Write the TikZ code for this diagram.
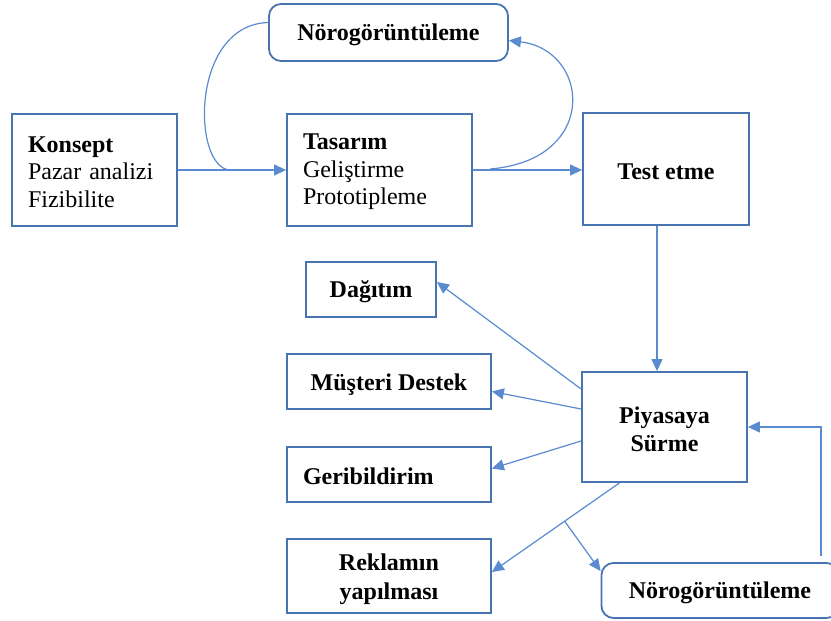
\documentclass[tikz,border=0pt]{standalone}
\usepackage{fontspec}
\setmainfont{Liberation Serif}
\usepackage{xcolor}
\usetikzlibrary{arrows.meta,positioning,calc}
\definecolor{boxline}{HTML}{4874B2}
\definecolor{arrline}{HTML}{5A8AD0}
\newcommand{\topgap}[1]{\rule{0pt}{#1}}

\begin{document}
\begin{tikzpicture}[x=1pt,y=-1pt,
  box/.style={draw=boxline,line width=1.8pt,inner sep=0pt,font=\fontsize{24}{28}\selectfont\bfseries,align=center},
  lbox/.style={box,font=\fontsize{24}{27.5}\selectfont,inner xsep=16pt,align=left},
  rbox/.style={box,rounded corners=12pt},
  ln/.style={draw=arrline,line width=1.2pt},
  arr/.style={ln,-{Triangle[length=12pt,width=11pt]}}]
 \useasboundingbox (0,0) rectangle (831,621);
 \clip (0,0) rectangle (831,621);
 % upper row
 \node[lbox,text width=133pt,minimum height=112pt] (kon) at (94.5,170) {\topgap{19.5pt}\textbf{Konsept}\\Pazar analizi\\Fizibilite};
 \node[lbox,text width=153pt,minimum height=112pt] (tas) at (379.5,170) {\topgap{19.5pt}\textbf{Tasarım}\\Geliştirme\\Prototipleme};
 \node[box,minimum width=166pt,minimum height=112pt] (test) at (666,169) {\topgap{22pt}Test etme};
 \node[rbox,minimum width=239pt,minimum height=57pt] (nrt) at (388.5,32.5) {\topgap{22pt}Nörogörüntüleme};
 % launch and its outputs
 \node[box,minimum width=165pt,minimum height=110pt] (pia) at (664.5,427) {\topgap{22pt}Piyasaya\\Sürme};
 \node[box,minimum width=130pt,minimum height=55pt] (dag) at (371,289.5) {\topgap{22pt}Dağıtım};
 \node[box,minimum width=204pt,minimum height=55pt] (mus) at (389,381.5) {\topgap{22pt}Müşteri Destek};
 \node[lbox,font=\fontsize{24}{27.5}\selectfont\bfseries,text width=172pt,minimum height=55pt] (geri) at (389,474.5) {\topgap{19.5pt}Geribildirim};
 \node[box,font=\fontsize{24}{29.5}\selectfont\bfseries,minimum width=204pt,minimum height=74pt] (rek) at (389,576) {\topgap{23pt}Reklamın\\yapılması};
 \node[rbox,minimum width=237pt,minimum height=55pt] (nrb) at (720,590.5) {\topgap{22pt}Nörogörüntüleme};
 % connectors
 \coordinate (m1) at (230,170);
 \coordinate (m2) at (490,169);
 \draw[arr] (kon.east) -- (tas.west);
 \draw[arr] (tas.east) -- (tas.east -| test.west);
 \draw[ln] ([yshift=10pt]nrt.west) .. controls (190,25) and (192,168) .. (m1);
 \draw[arr] (m2) .. controls (600,160) and (590,50) .. ([yshift=-8pt]nrt.east);
 \draw[arr] ([xshift=-9pt]test.south) -- ([xshift=-9pt]test.south |- pia.north);
 \draw[arr] ([yshift=38pt]pia.west) -- ([yshift=7.5pt]dag.east);
 \draw[arr] ([yshift=18pt]pia.west) -- ([yshift=-10pt]mus.east);
 \draw[arr] ([yshift=-14pt]pia.west) -- ([yshift=6pt]geri.east);
 \draw[arr] ([xshift=-45pt]pia.south) -- coordinate[pos=.43] (br) ([yshift=4pt]rek.east);
 \draw[arr] (br) -- ([yshift=-9pt]nrb.north west);
 \draw[arr] ([xshift=101pt,yshift=6pt]nrb.north) |- (pia.east);
\end{tikzpicture}
\end{document}
